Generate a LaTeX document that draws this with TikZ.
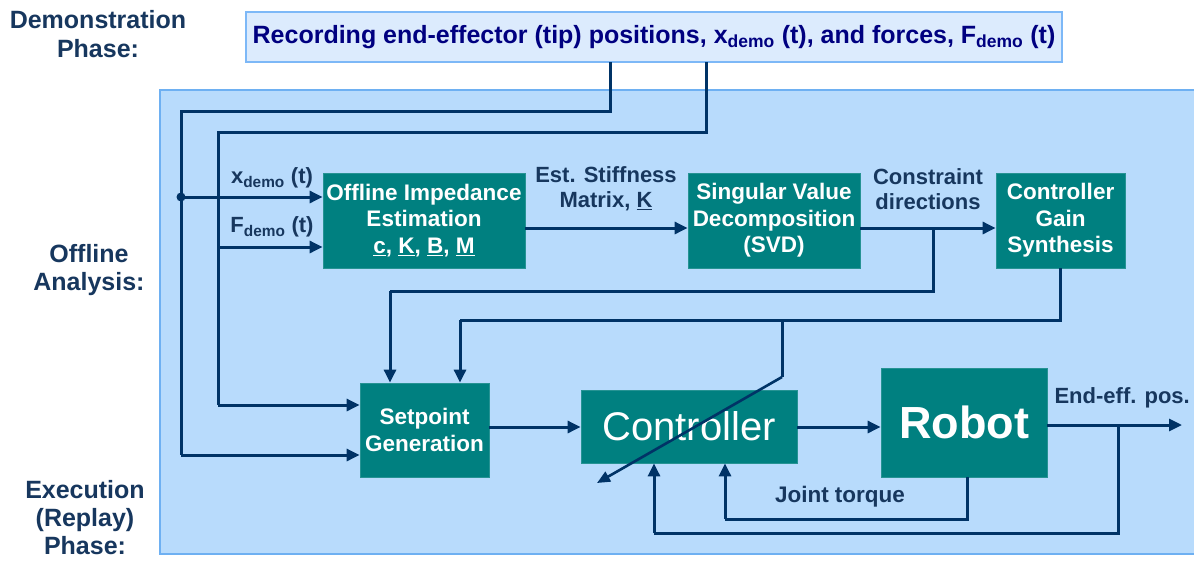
\documentclass[tikz,border=0pt]{standalone}
\usepackage{fontspec}
\setmainfont{Liberation Sans}
\usetikzlibrary{arrows.meta}
\definecolor{navyline}{HTML}{003366}
\definecolor{navytext}{HTML}{17375E}
\definecolor{toptext}{HTML}{000080}
\definecolor{topfill}{HTML}{DCEBFD}
\definecolor{topborder}{HTML}{7DB8F7}
\definecolor{bgfill}{HTML}{B8DBFC}
\definecolor{bgborder}{HTML}{6EB0F2}
\definecolor{tealbox}{HTML}{008080}
\begin{document}
\begin{tikzpicture}[x=1pt,y=-1pt,
  blk/.style={fill=tealbox,draw=tealbox!85!white,line width=0.8pt,text=white,font=\bfseries\fontsize{22.5}{26.5}\selectfont,align=center,inner sep=0pt},
  phase/.style={text=navytext,font=\bfseries\fontsize{25}{28.5}\selectfont,align=center,inner sep=0pt},
  lbl/.style={text=navytext,font=\bfseries\fontsize{22}{25}\selectfont,align=center,inner sep=0pt},
  wire/.style={draw=navyline,line width=3pt,line join=miter},
  arr/.style={wire,-{Triangle[length=13pt,width=12pt]}}
]
\useasboundingbox (0,0) rectangle (1194,560);
% backgrounds
\fill[white] (0,0) rectangle (1194,560);
\draw[fill=bgfill,draw=bgborder,line width=2pt] (160,90) rectangle (1200,554);
\node[draw=topborder,fill=topfill,line width=2pt,minimum width=816pt,minimum height=50pt,inner sep=0pt,text=toptext,font=\bfseries\fontsize{25}{28}\selectfont] (top) at (654,37) {Recording end-effector (tip) positions, x\textsubscript{demo} (t), and forces, F\textsubscript{demo} (t)};
% phase labels
\node[phase] (ph1) at (98,34) {Demonstration\\Phase:};
\node[phase] (ph2) at (89,270) {Offline\\Analysis:};
\node[phase,font=\bfseries\fontsize{25}{28}\selectfont] (ph3) at (85,518) {Execution\\(Replay)\\Phase:};
% blocks
\node[blk,minimum width=202pt,minimum height=95pt] (ofl) at (424,220.5) {Offline Impedance\\Estimation\\\underline{c}, \underline{K}, \underline{B}, \underline{M}};
\node[blk,minimum width=172pt,minimum height=95pt] (svd) at (774,220.5) {Singular Value\\Decomposition\\(SVD)};
\node[blk,minimum width=129pt,minimum height=95pt] (cgs) at (1060.5,220.5) {Controller\\Gain\\Synthesis};
\node[blk,minimum width=129pt,minimum height=94pt] (spg) at (424.5,430) {Setpoint\\Generation};
\node[blk,minimum width=216pt,minimum height=73pt,font=\fontsize{40}{44}\selectfont] (ctl) at (689,426.5) {Controller};
\node[blk,minimum width=166pt,minimum height=109pt,font=\bfseries\fontsize{45}{50}\selectfont] (rob) at (964,422.5) {Robot};
% coordinates
\coordinate (tx) at (610,62);
\coordinate (tf) at (706,62);
\coordinate (j1) at (181,197);
\coordinate (jc) at (933,228);
\coordinate (jg) at (782,320);
\coordinate (gk) at (782,377);
\coordinate (gt) at (597,483);
\coordinate (out) at (1182,425);
\coordinate (jo) at (1118,425);
% demo wires
\draw[wire] (tx) |- (181,111) -- (181,455);
\draw[arr] (181,455) -- (spg.west |- 0,455);
\draw[arr] (j1) -- (ofl.west |- j1);
\fill[navyline] (j1) circle (4.5pt);
\draw[wire] (tf) |- (218,132) -- (218,405);
\draw[arr] (218,405) -- (spg.west |- 0,405);
\draw[arr] (218,247) -- (ofl.west |- 0,247);
% offline chain
\draw[arr] (ofl.east |- 0,228) -- (svd.west |- 0,228);
\draw[arr] (svd.east |- 0,228) -- (cgs.west |- 0,228);
\draw[wire] (jc) -- (933,291) -- (390,291);
\draw[arr] (390,291) -- (spg.north -| 390,0);
\draw[wire] (cgs.south -| 1060,0) -- (1060,320) -- (460,320);
\draw[arr] (460,320) -- (spg.north -| 460,0);
% gain adjust arrow
\draw[wire] (jg) -- (gk);
\draw[draw=navyline,line width=2.6pt,-{Triangle[length=13pt,width=11pt]}] (gk) -- (gt);
% execution chain
\draw[arr] (spg.east |- 0,427) -- (ctl.west |- 0,427);
\draw[arr] (ctl.east |- 0,427) -- (rob.west |- 0,427);
\draw[arr] (rob.east |- out) -- (out);
\draw[wire] (jo) -- (1118,533) -- (654,533);
\draw[arr] (654,533) -- (ctl.south -| 654,0);
\draw[wire] (rob.south -| 967,0) -- (967,519) -- (725,519);
\draw[arr] (725,519) -- (ctl.south -| 725,0);
% labels
\node[lbl] (lx) at (272,178) {x\textsubscript{demo} (t)};
\node[lbl] (lf) at (272,227) {F\textsubscript{demo} (t)};
\node[lbl] (lk) at (606,189) {Est. Stiffness\\Matrix, \underline{K}};
\node[lbl] (lc) at (928,189) {Constraint\\directions};
\node[lbl,font=\bfseries\fontsize{22}{25}\selectfont,anchor=east] (le) at (1190,398) {End-eff. pos.};
\node[lbl,font=\bfseries\fontsize{22.5}{25}\selectfont] (lj) at (840,497) {Joint torque};
\end{tikzpicture}
\end{document}
